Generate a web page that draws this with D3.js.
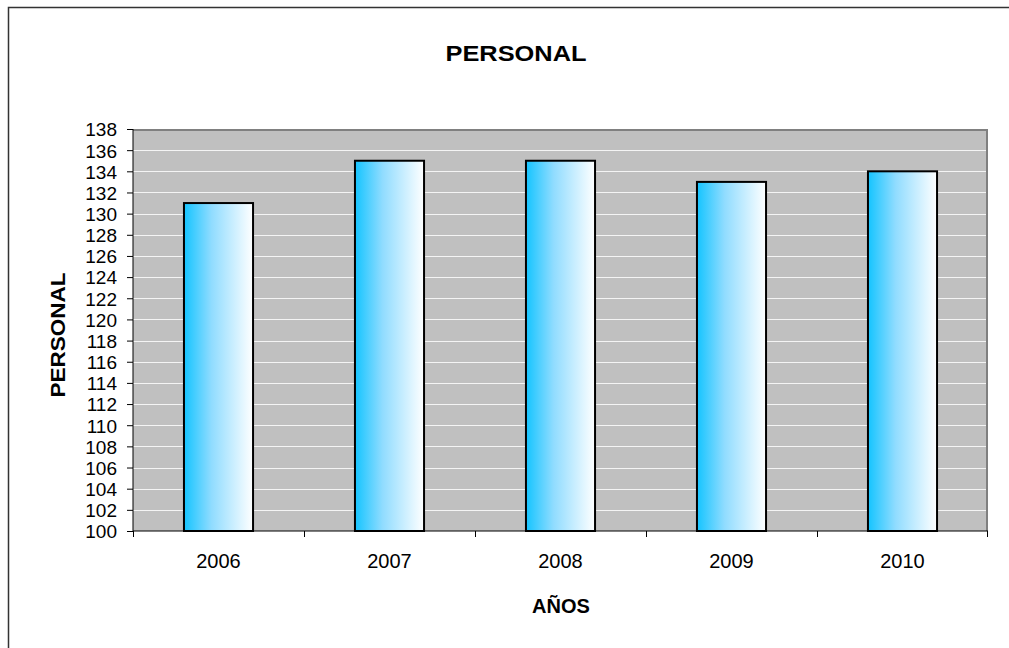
<!DOCTYPE html>
<html>
<head>
<meta charset="utf-8">
<script src="https://cdn.jsdelivr.net/npm/d3@7"></script>
<style>
  html, body { margin: 0; background: #fff; overflow: hidden; }
  svg { display: block; }
  text { font-family: "Liberation Sans", Arial, sans-serif; fill: #000; }
</style>
</head>
<body>
<svg class="chart" width="1009" height="648"></svg>
<script>
var years = ["2006", "2007", "2008", "2009", "2010"];
var personal = [131, 135, 135, 133, 134];
var yTicks = d3.range(100, 139, 2);

var plot = {left: 133, right: 988, top: 129, bottom: 531};

var svg = d3.select('.chart');

// outer chart border: only top and left edges are inside the picture
svg.append('path')
    .attr('d', 'M8.5,700V7.5H1200')
    .style('fill', 'none')
    .style('stroke', '#333')
    .style('stroke-width', 1.5);

var defs = svg.append('defs');
var grad = defs.append('linearGradient').attr('id', 'barGrad')
    .attr('x1', '0%').attr('x2', '100%').attr('y1', '0%').attr('y2', '0%');
grad.append('stop').attr('offset', '0%').attr('stop-color', '#14c4ff');
grad.append('stop').attr('offset', '40%').attr('stop-color', '#90dcff');
grad.append('stop').attr('offset', '100%').attr('stop-color', '#ffffff');

var x = d3.scaleBand()
    .domain(years)
    .range([plot.left, plot.right])
    .paddingInner(0.596)
    .paddingOuter(0.298);

var y = d3.scaleLinear()
    .domain([100, 138])
    .range([plot.bottom, plot.top]);

// plot background
svg.append('rect')
    .attr('x', plot.left).attr('y', plot.top)
    .attr('width', plot.right - plot.left)
    .attr('height', plot.bottom - plot.top)
    .style('fill', '#c0c0c0');

// gridlines
svg.append('g').selectAll('line')
    .data(yTicks.slice(1, -1))
    .enter().append('line')
    .attr('x1', plot.left).attr('x2', plot.right)
    .attr('y1', function(d) { return Math.round(y(d)) + 0.5; })
    .attr('y2', function(d) { return Math.round(y(d)) + 0.5; })
    .style('stroke', '#f4f4f4')
    .style('stroke-width', 1);

// top / right frame of plot area
svg.append('path')
    .attr('d', 'M' + plot.left + ',' + (plot.top + 1) + 'H' + (plot.right - 1) + 'V' + plot.bottom)
    .style('fill', 'none')
    .style('stroke', '#808080')
    .style('stroke-width', 2);

// bars
svg.append('g').selectAll('rect')
    .data(personal)
    .enter().append('rect')
    .attr('x', function(d, i) { return x(years[i]); })
    .attr('y', function(d) { return y(d); })
    .attr('width', x.bandwidth())
    .attr('height', function(d) { return y(100) - y(d); })
    .style('fill', 'url(#barGrad)')
    .style('stroke', '#000')
    .style('stroke-width', 2);

// y axis
var yAxis = d3.axisLeft(y)
    .tickValues(yTicks)
    .tickSize(6)
    .tickPadding(10)
    .tickFormat(d3.format('d'));

var ya = svg.append('g')
    .attr('transform', 'translate(' + plot.left + ',0)')
    .call(yAxis);
ya.select('.domain').attr('d', 'M0,' + plot.top + 'V' + plot.bottom).style('stroke', '#000');
ya.selectAll('text').style('font-size', '19px').attr('dy', '0.36em');

// x axis: labels at centres, ticks at category boundaries
var xAxis = d3.axisBottom(x).tickSize(0).tickPadding(23);
var xa = svg.append('g')
    .attr('transform', 'translate(0,' + plot.bottom + ')')
    .call(xAxis);
xa.select('.domain').attr('d', 'M' + plot.left + ',0H' + plot.right).style('stroke', '#000');
xa.selectAll('text').style('font-size', '20px');

svg.append('g').selectAll('line')
    .data(d3.range(years.length + 1))
    .enter().append('line')
    .attr('x1', function(i) { return plot.left + i * x.step() + (i === years.length ? -0.5 : 0.5); })
    .attr('x2', function(i) { return plot.left + i * x.step() + (i === years.length ? -0.5 : 0.5); })
    .attr('y1', plot.bottom).attr('y2', plot.bottom + 6)
    .style('stroke', '#000');

// titles
svg.append('text')
    .attr('x', 516).attr('y', 61)
    .attr('text-anchor', 'middle')
    .attr('textLength', 141).attr('lengthAdjust', 'spacingAndGlyphs')
    .style('font-size', '22px').style('font-weight', 'bold')
    .text('PERSONAL');

svg.append('text')
    .attr('transform', 'translate(65,335) rotate(-90)')
    .attr('text-anchor', 'middle')
    .attr('textLength', 125).attr('lengthAdjust', 'spacingAndGlyphs')
    .style('font-size', '21px').style('font-weight', 'bold')
    .text('PERSONAL');

svg.append('text')
    .attr('x', 561).attr('y', 613)
    .attr('text-anchor', 'middle')
    .style('font-size', '20px').style('font-weight', 'bold')
    .text('AÑOS');
</script>
</body>
</html>
